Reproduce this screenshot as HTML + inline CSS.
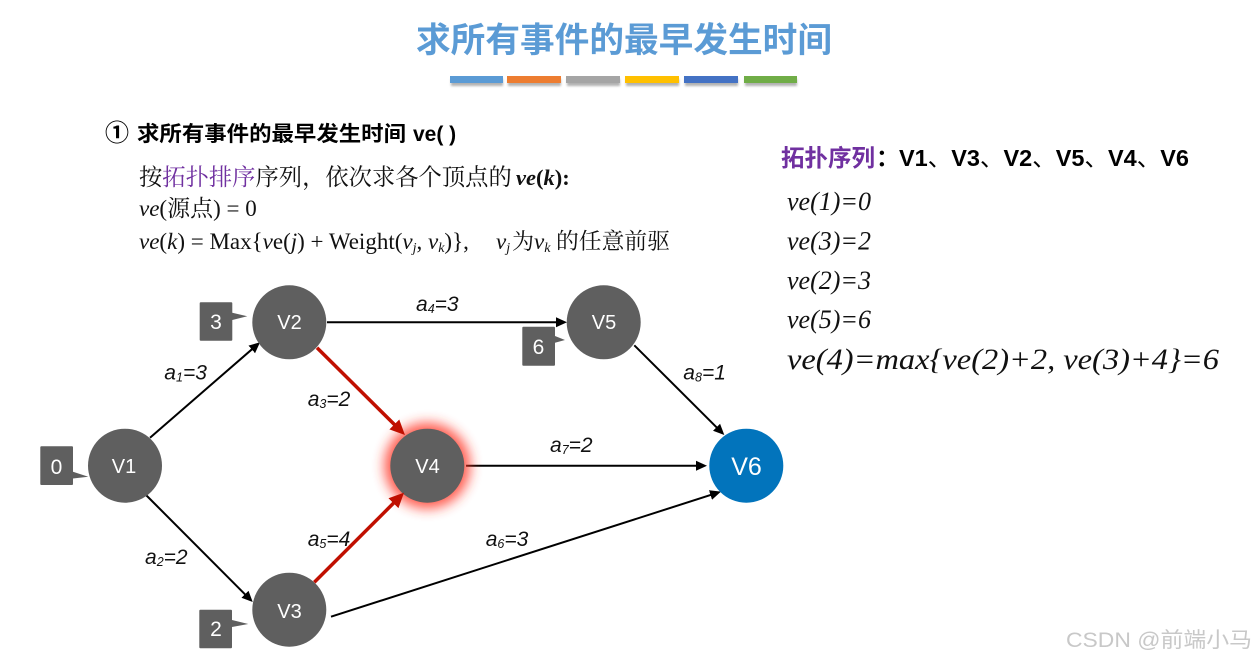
<!DOCTYPE html>
<html><head><meta charset="utf-8">
<style>
html,body{margin:0;padding:0;background:#fff;width:1258px;height:661px;overflow:hidden}
svg{display:block}
.cjk{font-family:"Liberation Sans","Noto Sans CJK SC",sans-serif}
.ser{font-family:"Liberation Serif","Noto Serif CJK SC",serif}
.lbl{font-family:"Liberation Sans",sans-serif;font-style:italic;font-size:21px;fill:#111}
.lbl .s{font-size:12.5px}
.n{font-family:"Liberation Sans",sans-serif;font-size:20px;fill:#fff;text-anchor:middle}
.b{font-family:"Liberation Sans",sans-serif;font-size:21px;fill:#fff;text-anchor:middle}
.ve{font-family:"Liberation Serif",serif;font-style:italic;font-size:26px;fill:#111}
</style></head><body>
<svg width="1258" height="661" viewBox="0 0 1258 661" xmlns="http://www.w3.org/2000/svg">
<defs>
<marker id="ab" markerUnits="userSpaceOnUse" markerWidth="13" markerHeight="12" refX="8" refY="5.5" orient="auto"><path d="M0,0.5 L11,5.5 L0,10.5 Z" fill="#000"/></marker>
<marker id="ar" markerUnits="userSpaceOnUse" markerWidth="17" markerHeight="16" refX="9" refY="7.5" orient="auto"><path d="M0,0.5 L15,7.5 L0,14.5 Z" fill="#c00f00"/></marker>
<filter id="glow" x="-60%" y="-60%" width="220%" height="220%"><feGaussianBlur stdDeviation="6"/></filter>
<filter id="sh" x="-10%" y="-50%" width="120%" height="250%"><feGaussianBlur stdDeviation="1"/></filter>
</defs>
<rect width="1258" height="661" fill="#fff"/>

<text class="cjk" x="416" y="52" font-size="34.7" font-weight="bold" fill="#5b9bd5" textLength="416" lengthAdjust="spacingAndGlyphs">求所有事件的最早发生时间</text>

<g fill="#999" filter="url(#sh)" opacity=".75"><rect x="451" y="79" width="52" height="7"/><rect x="508" y="79" width="53" height="7"/><rect x="567" y="79" width="53" height="7"/><rect x="626" y="79" width="53" height="7"/><rect x="685" y="79" width="53" height="7"/><rect x="745" y="79" width="52" height="7"/></g>
<rect x="450" y="76" width="53" height="7" fill="#5b9bd5"/>
<rect x="507" y="76" width="54" height="7" fill="#ed7d31"/>
<rect x="566" y="76" width="54" height="7" fill="#a5a5a5"/>
<rect x="625" y="76" width="54" height="7" fill="#ffc000"/>
<rect x="684" y="76" width="54" height="7" fill="#4472c4"/>
<rect x="744" y="76" width="53" height="7" fill="#70ad47"/>

<text class="cjk" x="105" y="141" font-size="24" font-weight="bold" fill="#000">①</text>
<text class="cjk" x="137" y="141" font-size="21" font-weight="bold" fill="#000" textLength="269" lengthAdjust="spacingAndGlyphs">求所有事件的最早发生时间</text>
<text class="cjk" x="413" y="141" font-size="21" font-weight="bold" fill="#000">ve( )</text>

<text class="ser" x="139" y="185" font-size="23.3" fill="#111">按<tspan fill="#7030a0">拓扑排序</tspan>序列，依次求各个顶点的</text>
<text class="ser" x="516" y="185" font-size="22.5" font-weight="bold" fill="#111"><tspan font-style="italic">ve</tspan>(<tspan font-style="italic">k</tspan>):</text>
<text class="ser" x="139" y="216" font-size="23" fill="#111"><tspan font-style="italic">ve</tspan>(源点) = 0</text>
<text class="ser" x="139" y="249" font-size="23" fill="#111"><tspan font-style="italic">ve</tspan>(<tspan font-style="italic">k</tspan>) = Max{<tspan font-style="italic">v</tspan>e(<tspan font-style="italic">j</tspan>) + Weight(<tspan font-style="italic">v</tspan><tspan font-style="italic" font-size="14" dy="3">j</tspan><tspan dy="-3">, </tspan><tspan font-style="italic">v</tspan><tspan font-style="italic" font-size="14" dy="3">k</tspan><tspan dy="-3">)},</tspan></text>
<text class="ser" x="496" y="249" font-size="23" fill="#111"><tspan font-style="italic">v</tspan><tspan font-style="italic" font-size="14" dy="3">j</tspan></text>
<text class="ser" x="512" y="249" font-size="22" fill="#111">为</text>
<text class="ser" x="534" y="249" font-size="23" fill="#111"><tspan font-style="italic">v</tspan><tspan font-style="italic" font-size="14" dy="3">k</tspan></text>
<text class="ser" x="556" y="249" font-size="22.8" fill="#111">的任意前驱</text>

<text class="cjk" x="781" y="166" font-size="23.5" font-weight="bold" fill="#7030a0">拓扑序列</text>
<text class="cjk" x="876" y="166" font-size="23.5" font-weight="bold" fill="#000">：</text>
<text class="cjk" x="899" y="166" font-size="23.5" font-weight="bold" fill="#000">V1<tspan font-weight="normal">、</tspan>V3<tspan font-weight="normal">、</tspan>V2<tspan font-weight="normal">、</tspan>V5<tspan font-weight="normal">、</tspan>V4<tspan font-weight="normal">、</tspan>V6</text>

<text class="ve" x="787" y="210">ve(1)=0</text>
<text class="ve" x="787" y="249.5">ve(3)=2</text>
<text class="ve" x="787" y="289">ve(2)=3</text>
<text class="ve" x="787" y="328">ve(5)=6</text>
<text class="ve" x="787" y="369" style="font-size:30px" textLength="432" lengthAdjust="spacingAndGlyphs">ve(4)=max{ve(2)+2, ve(3)+4}=6</text>

<!-- edges -->
<g stroke="#000" stroke-width="2" fill="none">
<line x1="150" y1="437.7" x2="257.8" y2="344.2" marker-end="url(#ab)"/>
<line x1="146" y1="495" x2="250.6" y2="599.9" marker-end="url(#ab)"/>
<line x1="327" y1="322.3" x2="564" y2="322.3" marker-end="url(#ab)"/>
<line x1="466" y1="465.7" x2="704" y2="465.7" marker-end="url(#ab)"/>
<line x1="331" y1="616.7" x2="718.1" y2="492.6" marker-end="url(#ab)"/>
<line x1="634.3" y1="345.3" x2="722.2" y2="432.9" marker-end="url(#ab)"/>
</g>

<!-- nodes -->
<circle cx="427.3" cy="465.7" r="43" fill="#ff3020" opacity=".8" filter="url(#glow)"/>
<g fill="#5f5f5f">
<circle cx="125" cy="465.7" r="37"/>
<circle cx="289.3" cy="322.3" r="37"/>
<circle cx="289.3" cy="609.7" r="37"/>
<circle cx="427.3" cy="465.7" r="37"/>
<circle cx="603.7" cy="322.3" r="37"/>
</g>
<circle cx="746.3" cy="465.7" r="37" fill="#0274bc"/>

<g stroke="#c00f00" stroke-width="3.5" fill="none">
<line x1="317" y1="347.7" x2="400.7" y2="430.8" marker-end="url(#ar)"/>
<line x1="314.3" y1="582.3" x2="399.8" y2="496.9" marker-end="url(#ar)"/>
</g>

<text class="n" x="124" y="473">V1</text>
<text class="n" x="289.5" y="329">V2</text>
<text class="n" x="289.5" y="618">V3</text>
<text class="n" x="427.5" y="473">V4</text>
<text class="n" x="604" y="329">V5</text>
<text class="n" x="746.5" y="475" style="font-size:25px">V6</text>

<!-- badges -->
<g fill="#5f5f5f">
<path d="M201,302.3H231.3a1,1 0 0 1 1,1V312.7L247.3,316.3L232.3,320V339.7a1,1 0 0 1 -1,1H200.7a1,1 0 0 1 -1,-1V303.3a1,1 0 0 1 1,-1Z"/>
<path d="M41.3,446.3H72a1,1 0 0 1 1,1V471.7L88.3,476.7L73,478.5V484a1,1 0 0 1 -1,1H41.3a1,1 0 0 1 -1,-1V447.3a1,1 0 0 1 1,-1Z"/>
<path d="M200.3,609.7H231a1,1 0 0 1 1,1V620L248.3,624L232,627V647.3a1,1 0 0 1 -1,1H200.3a1,1 0 0 1 -1,-1V610.7a1,1 0 0 1 1,-1Z"/>
<path d="M523.3,326.7H554a1,1 0 0 1 1,1V336L565,340L555,342.7V364.7a1,1 0 0 1 -1,1H523.3a1,1 0 0 1 -1,-1V327.7a1,1 0 0 1 1,-1Z"/>
</g>
<text class="b" x="216" y="329">3</text>
<text class="b" x="56.5" y="474">0</text>
<text class="b" x="216" y="636">2</text>
<text class="b" x="538.5" y="354">6</text>

<!-- edge labels -->
<text class="lbl" x="164.3" y="379.5">a<tspan class="s" dy="2">1</tspan><tspan dy="-2">=3</tspan></text>
<text class="lbl" x="145" y="564">a<tspan class="s" dy="2">2</tspan><tspan dy="-2">=2</tspan></text>
<text class="lbl" x="307.7" y="406">a<tspan class="s" dy="2">3</tspan><tspan dy="-2">=2</tspan></text>
<text class="lbl" x="416" y="311">a<tspan class="s" dy="2">4</tspan><tspan dy="-2">=3</tspan></text>
<text class="lbl" x="307.7" y="546">a<tspan class="s" dy="2">5</tspan><tspan dy="-2">=4</tspan></text>
<text class="lbl" x="485.7" y="546">a<tspan class="s" dy="2">6</tspan><tspan dy="-2">=3</tspan></text>
<text class="lbl" x="550" y="452">a<tspan class="s" dy="2">7</tspan><tspan dy="-2">=2</tspan></text>
<text class="lbl" x="683.3" y="379.5">a<tspan class="s" dy="2">8</tspan><tspan dy="-2">=1</tspan></text>

<text class="cjk" x="1066" y="647" font-size="21" fill="#c8c8c8" textLength="186" lengthAdjust="spacingAndGlyphs">CSDN @前端小马</text>
</svg>
</body></html>
